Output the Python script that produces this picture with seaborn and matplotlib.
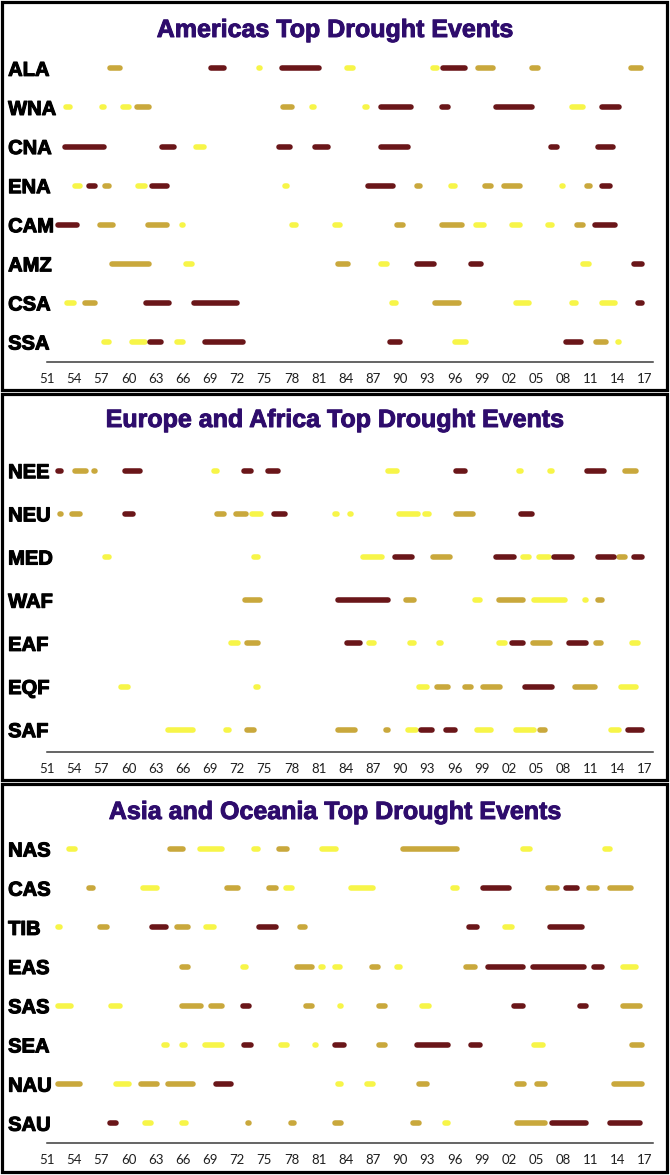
import matplotlib
matplotlib.use('Agg')
import matplotlib.pyplot as plt
import matplotlib.patheffects as pe
from matplotlib.patches import Rectangle
import pandas as pd
import seaborn as sns

# drought events: (start year, end year, tier)  D = top, G = second, Y = third
ALA = [(1957.7, 1959.4, 'G'), (1968.8, 1970.8, 'D'), (1974.1, 1974.8, 'Y'), (1976.6, 1981.3, 'D'),
       (1983.8, 1985.1, 'Y'), (1993.3, 1994.4, 'Y'), (1994.4, 1997.5, 'D'), (1998.3, 2000.5, 'G'),
       (2004.2, 2005.5, 'G'), (2015.2, 2016.9, 'G')]
WNA = [(1952.8, 1953.8, 'Y'), (1956.8, 1957.6, 'Y'), (1959.1, 1960.3, 'Y'), (1960.6, 1962.6, 'G'),
       (1976.8, 1978.3, 'G'), (1980.0, 1980.8, 'Y'), (1985.8, 1986.6, 'Y'), (1987.6, 1991.5, 'D'),
       (1994.3, 1995.6, 'D'), (2000.3, 2004.8, 'D'), (2008.7, 2010.5, 'Y'), (2012.0, 2014.5, 'D')]
CNA = [(1952.7, 1957.6, 'D'), (1963.4, 1965.3, 'D'), (1967.1, 1968.6, 'Y'), (1976.3, 1978.1, 'D'),
       (1980.3, 1982.3, 'D'), (1987.6, 1991.1, 'D'), (2006.3, 2007.6, 'D'), (2011.5, 2013.8, 'D')]
ENA = [(1953.8, 1954.9, 'Y'), (1955.3, 1956.6, 'D'), (1957.1, 1958.1, 'G'), (1960.8, 1962.1, 'Y'),
       (1962.3, 1964.6, 'D'), (1977.0, 1977.8, 'Y'), (1986.1, 1989.5, 'D'), (1991.5, 1992.5, 'G'),
       (1995.3, 1996.3, 'Y'), (1999.0, 2000.3, 'G'), (2001.1, 2003.5, 'G'), (2007.5, 2008.3, 'Y'),
       (2010.3, 2011.2, 'G'), (2012.0, 2013.5, 'D')]
CAM = [(1951.9, 1954.6, 'D'), (1956.6, 1958.6, 'G'), (1961.9, 1964.6, 'G'), (1965.6, 1966.3, 'Y'),
       (1977.8, 1978.8, 'Y'), (1982.5, 1983.6, 'Y'), (1989.3, 1990.6, 'G'), (1994.3, 1997.1, 'G'),
       (1998.1, 1999.5, 'Y'), (2002.0, 2003.5, 'Y'), (2006.0, 2007.1, 'Y'), (2009.2, 2010.5, 'G'),
       (2011.2, 2014.0, 'D'), (2016.0, 2016.7, 'Y')]
AMZ = [(1957.9, 1962.6, 'G'), (1966.1, 1967.3, 'Y'), (1982.8, 1984.5, 'G'), (1987.6, 1988.8, 'Y'),
       (1991.6, 1994.0, 'D'), (1997.5, 1999.2, 'D'), (2009.9, 2011.1, 'Y'), (2015.5, 2017.0, 'D')]
CSA = [(1952.9, 1954.3, 'Y'), (1954.9, 1956.6, 'G'), (1961.6, 1964.8, 'D'), (1966.9, 1972.3, 'D'),
       (1988.8, 1989.8, 'Y'), (1993.5, 1996.8, 'G'), (2002.5, 2004.5, 'Y'), (2008.7, 2009.7, 'Y'),
       (2012.0, 2014.0, 'Y'), (2015.9, 2017.0, 'D')]
SSA = [(1957.0, 1958.1, 'Y'), (1960.1, 1962.1, 'Y'), (1962.1, 1963.9, 'D'), (1965.1, 1966.3, 'Y'),
       (1968.1, 1972.9, 'D'), (1982.0, 1982.7, 'Y'), (1988.6, 1990.3, 'D'), (1995.7, 1997.6, 'Y'),
       (2008.0, 2010.3, 'D'), (2011.3, 2013.0, 'G'), (2013.7, 2014.5, 'Y')]

NEE = [(1951.9, 1952.8, 'D'), (1953.8, 1955.6, 'G'), (1955.9, 1956.6, 'G'), (1959.3, 1961.6, 'D'),
       (1969.1, 1970.1, 'Y'), (1972.4, 1973.8, 'D'), (1975.1, 1976.8, 'D'), (1988.3, 1989.9, 'Y'),
       (1995.8, 1997.5, 'D'), (2002.8, 2003.6, 'Y'), (2006.2, 2007.1, 'Y'), (2010.3, 2012.8, 'D'),
       (2014.5, 2016.3, 'G')]
NEU = [(1952.1, 1952.8, 'G'), (1953.5, 1954.9, 'G'), (1959.3, 1960.8, 'D'), (1969.5, 1970.8, 'G'),
       (1971.6, 1973.3, 'G'), (1973.3, 1974.9, 'Y'), (1975.8, 1977.6, 'D'), (1982.5, 1983.3, 'Y'),
       (1984.1, 1984.9, 'Y'), (1989.6, 1992.3, 'Y'), (1992.4, 1993.5, 'Y'), (1995.8, 1998.3, 'G'),
       (2003.0, 2004.8, 'D')]
MED = [(1957.1, 1958.1, 'Y'), (1973.6, 1974.6, 'Y'), (1985.6, 1988.3, 'Y'), (1989.1, 1991.6, 'D'),
       (1993.3, 1995.8, 'G'), (2000.3, 2002.8, 'D'), (2003.3, 2004.5, 'Y'), (2005.0, 2006.7, 'Y'),
       (2006.7, 2009.3, 'D'), (2011.5, 2013.9, 'D'), (2013.9, 2015.1, 'G'), (2015.5, 2017.0, 'D')]
WAF = [(1972.6, 1974.8, 'G'), (1982.8, 1988.9, 'D'), (1990.3, 1991.8, 'G'), (1998.0, 1999.1, 'Y'),
       (2000.6, 2003.8, 'G'), (2004.5, 2008.5, 'Y'), (2010.1, 2010.8, 'Y'), (2011.5, 2012.6, 'G')]
EAF = [(1971.0, 1972.4, 'Y'), (1972.8, 1974.6, 'G'), (1983.8, 1985.8, 'D'), (1986.3, 1987.4, 'Y'),
       (1990.8, 1991.8, 'Y'), (1994.0, 1994.8, 'Y'), (2000.6, 2001.9, 'Y'), (2002.0, 2003.8, 'D'),
       (2004.3, 2006.8, 'G'), (2008.3, 2010.8, 'D'), (2011.3, 2012.5, 'G'), (2015.3, 2016.5, 'Y')]
EQF = [(1958.9, 1960.2, 'Y'), (1973.8, 1974.6, 'Y'), (1991.8, 1993.3, 'Y'), (1993.8, 1995.6, 'G'),
       (1996.8, 1998.1, 'G'), (1998.8, 2001.3, 'G'), (2003.5, 2007.0, 'D'), (2009.0, 2011.8, 'G'),
       (2014.1, 2016.3, 'Y')]
SAF = [(1964.1, 1967.4, 'Y'), (1970.5, 1971.4, 'Y'), (1972.8, 1974.1, 'G'), (1982.8, 1985.3, 'G'),
       (1988.1, 1988.9, 'G'), (1990.5, 1992.0, 'Y'), (1992.0, 1993.8, 'D'), (1994.8, 1996.3, 'D'),
       (1998.2, 2000.3, 'Y'), (2002.5, 2005.1, 'Y'), (2005.1, 2006.3, 'G'), (2013.0, 2014.4, 'Y'),
       (2014.8, 2017.0, 'D')]

NAS = [(1953.1, 1954.4, 'Y'), (1964.3, 1966.3, 'G'), (1967.6, 1970.6, 'Y'), (1973.6, 1974.6, 'Y'),
       (1976.3, 1977.8, 'G'), (1981.1, 1983.2, 'Y'), (1990.0, 1996.6, 'G'), (2003.3, 2004.6, 'Y'),
       (2012.3, 2013.5, 'Y')]
CAS = [(1955.3, 1956.4, 'G'), (1961.3, 1963.4, 'Y'), (1970.6, 1972.4, 'G'), (1975.2, 1976.6, 'G'),
       (1977.1, 1978.4, 'Y'), (1984.3, 1987.3, 'Y'), (1995.5, 1996.6, 'Y'), (1998.8, 2002.3, 'D'),
       (2006.0, 2007.6, 'G'), (2008.0, 2009.8, 'D'), (2010.5, 2012.0, 'G'), (2012.8, 2015.8, 'G')]
TIB = [(1951.9, 1952.7, 'Y'), (1956.6, 1957.9, 'G'), (1962.3, 1964.4, 'D'), (1965.1, 1966.9, 'G'),
       (1968.3, 1969.7, 'Y'), (1974.1, 1976.6, 'D'), (1978.6, 1979.8, 'G'), (1997.3, 1998.8, 'D'),
       (2001.3, 2002.6, 'Y'), (2006.2, 2010.4, 'D')]
EAS = [(1965.6, 1966.9, 'G'), (1972.3, 1973.3, 'Y'), (1978.3, 1980.6, 'G'), (1981.0, 1981.8, 'Y'),
       (1982.5, 1983.6, 'Y'), (1986.6, 1987.8, 'G'), (1989.3, 1990.3, 'Y'), (1997.0, 1998.5, 'G'),
       (1999.4, 2003.8, 'D'), (2004.3, 2010.6, 'D'), (2011.1, 2012.6, 'D'), (2014.3, 2016.3, 'Y')]
SAS = [(1951.9, 1953.9, 'Y'), (1957.8, 1959.4, 'Y'), (1965.6, 1968.3, 'G'), (1968.8, 1970.6, 'G'),
       (1972.3, 1973.6, 'D'), (1979.3, 1980.6, 'G'), (1983.1, 1983.8, 'Y'), (1987.3, 1988.6, 'G'),
       (1992.1, 1993.5, 'Y'), (2002.3, 2003.8, 'D'), (2009.5, 2010.8, 'D'), (2014.3, 2016.8, 'G')]
SEA = [(1963.6, 1964.6, 'Y'), (1965.6, 1966.5, 'Y'), (1968.1, 1970.6, 'Y'), (1972.4, 1973.8, 'D'),
       (1976.5, 1977.8, 'Y'), (1980.3, 1981.0, 'Y'), (1982.5, 1984.1, 'D'), (1987.3, 1988.6, 'G'),
       (1991.5, 1995.6, 'D'), (1997.5, 1999.1, 'D'), (2004.5, 2006.1, 'Y'), (2015.3, 2017.0, 'G')]
NAU = [(1951.9, 1954.9, 'G'), (1958.3, 1960.4, 'Y'), (1961.1, 1963.4, 'G'), (1964.1, 1967.4, 'G'),
       (1969.4, 1971.6, 'D'), (1982.8, 1983.8, 'Y'), (1986.0, 1987.3, 'Y'), (1991.8, 1993.3, 'G'),
       (2002.6, 2004.0, 'G'), (2004.8, 2006.3, 'G'), (2013.3, 2017.0, 'G')]
SAU = [(1957.6, 1958.9, 'D'), (1961.5, 1962.8, 'Y'), (1965.6, 1966.6, 'Y'), (1972.9, 1973.6, 'G'),
       (1977.6, 1978.6, 'G'), (1982.5, 1983.8, 'G'), (1991.1, 1992.4, 'G'), (1994.6, 1995.6, 'Y'),
       (2002.6, 2006.3, 'G'), (2006.5, 2010.8, 'D'), (2012.8, 2016.8, 'D')]

EVENTS = {'ALA': ALA, 'WNA': WNA, 'CNA': CNA, 'ENA': ENA, 'CAM': CAM, 'AMZ': AMZ, 'CSA': CSA, 'SSA': SSA,
          'NEE': NEE, 'NEU': NEU, 'MED': MED, 'WAF': WAF, 'EAF': EAF, 'EQF': EQF, 'SAF': SAF,
          'NAS': NAS, 'CAS': CAS, 'TIB': TIB, 'EAS': EAS, 'SAS': SAS, 'SEA': SEA, 'NAU': NAU, 'SAU': SAU}

AMERICAS = ['ALA', 'WNA', 'CNA', 'ENA', 'CAM', 'AMZ', 'CSA', 'SSA']
EUR_AFR = ['NEE', 'NEU', 'MED', 'WAF', 'EAF', 'EQF', 'SAF']
ASIA_OCE = ['NAS', 'CAS', 'TIB', 'EAS', 'SAS', 'SEA', 'NAU', 'SAU']

TITLES = ['Americas Top Drought Events', 'Europe and Africa Top Drought Events',
          'Asia and Oceania Top Drought Events']

YEAR_TICKS = [1951, 1954, 1957, 1960, 1963, 1966, 1969, 1972, 1975, 1978, 1981, 1984,
              1987, 1990, 1993, 1996, 1999, 2002, 2005, 2008, 2011, 2014, 2017]
TICK_LABELS = ['51', '54', '57', '60', '63', '66', '69', '72', '75', '78', '81', '84',
               '87', '90', '93', '96', '99', '02', '05', '08', '11', '14', '17']

TIER_COLORS = {'D': '#6A1619', 'G': '#C9A83C', 'Y': '#F7F548'}

sns.set_theme(style='white')
plt.rcParams['font.family'] = ['Liberation Sans', 'DejaVu Sans']

W, H = 670, 1175
fig = plt.figure(figsize=(W / 100, H / 100), dpi=100)

LW = 4.0          # line width in points (~5.5 px)
CAP = 0.30        # round-cap radius in years


def fy(px):
    return 1 - px / H


def draw_panel(regions, title, top_px, bot_px, axis_off, title_px, box):
    # panel frame
    x0, y0, x1, y1 = box
    fig.add_artist(Rectangle((x0 / W, fy(y1)), (x1 - x0) / W, (y1 - y0) / H,
                             transform=fig.transFigure, fill=False, ec='black', lw=2.3))
    fig.text(0.5, fy(title_px), title, ha='center', va='center', fontsize=18,
             fontweight='bold', color='#2E0C6C',
             path_effects=[pe.withStroke(linewidth=0.7, foreground='#2E0C6C')])

    ax = fig.add_axes([47 / W, fy(bot_px), 606 / W, (bot_px - top_px) / H])
    rows = []
    for i, reg in enumerate(regions):
        for k, (s, e, t) in enumerate(EVENTS[reg]):
            mid = (s + e) / 2
            a = min(s + CAP, mid - 0.03)
            b = max(e - CAP, mid + 0.03)
            rows.append({'event': f'{reg}{k}', 'year': a, 'row': i, 'tier': t})
            rows.append({'event': f'{reg}{k}', 'year': b, 'row': i, 'tier': t})
    df = pd.DataFrame(rows)
    sns.lineplot(data=df, x='year', y='row', hue='tier', hue_order=['Y', 'G', 'D'],
                 units='event', estimator=None, sort=False, palette=TIER_COLORS,
                 linewidth=LW, solid_capstyle='round', legend=False, ax=ax)

    n = len(regions)
    ax.set_xlim(1951, 2017.9)
    ax.set_ylim(n - 1 + axis_off, -0.5)
    ax.set(xlabel='', ylabel='')
    ax.set_facecolor('none')
    for side in ['top', 'right', 'left']:
        ax.spines[side].set_visible(False)
    ax.spines['bottom'].set_color('#3a3a3a')
    ax.spines['bottom'].set_linewidth(1.1)

    ax.set_xticks(YEAR_TICKS, TICK_LABELS)
    ax.tick_params(axis='x', length=0, pad=8, labelsize=9.5, labelcolor='#1e1e1e')
    for lbl in ax.get_xticklabels():
        lbl.set_family(['Lato', 'DejaVu Sans'])

    ax.set_yticks(range(n), regions)
    ax.tick_params(axis='y', length=0, pad=28)
    for lbl in ax.get_yticklabels():
        lbl.set_horizontalalignment('left')
        lbl.set_fontweight('bold')
        lbl.set_fontsize(14.5)
        lbl.set_color('black')
        lbl.set_path_effects([pe.withStroke(linewidth=0.8, foreground='black')])
    return ax


draw_panel(AMERICAS, TITLES[0], 48.8, 361.7, 0.504, 30, (2, 2, 667, 390))
draw_panel(EUR_AFR, TITLES[1], 449.1, 751.7, 0.51, 420, (2, 394, 667, 780))
draw_panel(ASIA_OCE, TITLES[2], 829.4, 1142.7, 0.495, 812, (2, 784, 667, 1172))

fig.savefig('out.png', dpi=100, facecolor='white')
